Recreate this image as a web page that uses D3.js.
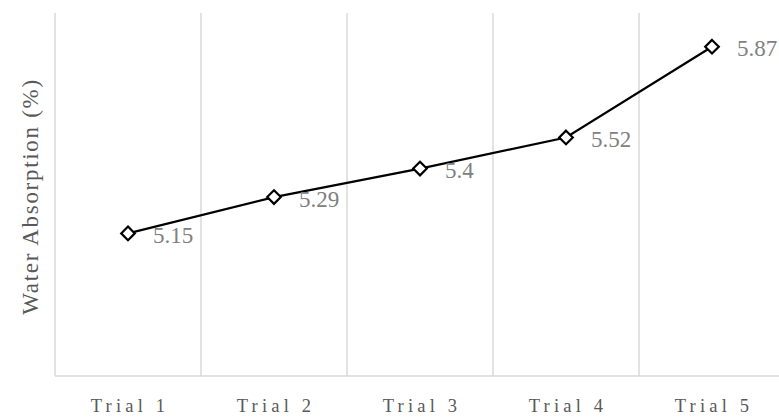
<!DOCTYPE html>
<html><head><meta charset="utf-8">
<script src="https://cdn.jsdelivr.net/npm/d3@7"></script>
<style>body{margin:0;background:#fff}svg{display:block}</style>
</head><body>
<svg id="c" width="779" height="417"></svg>
<script>
const categories = ["Trial 1","Trial 2","Trial 3","Trial 4","Trial 5"];
const values = [5.15, 5.29, 5.4, 5.52, 5.87];
const valueLabels = ["5.15","5.29","5.4","5.52","5.87"];
const yTitle = "Water Absorption (%)";

const svg = d3.select("#c");
const m = {left:55, top:13, bottom:376};
const band = 146;
const x = d3.scaleBand().domain(categories).range([m.left, m.left + band*categories.length]).padding(0);
const y = d3.scaleLinear().domain([4.6, 6.0]).range([m.bottom, m.top]);
const FONT = "'Liberation Serif', 'DejaVu Serif', serif";

// vertical gridlines at category boundaries
const bounds = categories.map(c => x(c));
svg.append("g").selectAll("line").data(bounds).join("line")
  .attr("x1", d=>d).attr("x2", d=>d).attr("y1", m.top).attr("y2", m.bottom)
  .attr("stroke", "#d9d9d9").attr("stroke-width", 1.5);

// x axis line
svg.append("line").attr("x1", m.left).attr("x2", 779).attr("y1", m.bottom).attr("y2", m.bottom)
  .attr("stroke", "#d9d9d9").attr("stroke-width", 1.5);

// x labels
svg.append("g").selectAll("text").data(categories).join("text")
  .attr("x", d => x(d) + x.bandwidth()/2 + 2).attr("y", 412)
  .attr("text-anchor", "middle")
  .attr("font-family", FONT)
  .attr("font-size", 18.5).attr("letter-spacing", 4.2)
  .attr("fill", "#595959").text(d => d);

// y title
svg.append("text")
  .attr("transform", `translate(38,${(m.top+m.bottom)/2 + 2}) rotate(-90)`)
  .attr("text-anchor", "middle")
  .attr("font-family", FONT)
  .attr("font-size", 23).attr("letter-spacing", 1.7)
  .attr("fill", "#595959").text(yTitle);

const cx = (d,i) => x(categories[i]) + x.bandwidth()/2;

// line
const line = d3.line().x((d,i)=>cx(d,i)).y(d=>y(d));
svg.append("path").datum(values).attr("d", line)
  .attr("fill","none").attr("stroke","#000").attr("stroke-width",2.2);

// markers
const sym = d3.symbol().type(d3.symbolDiamond2).size(118);
svg.append("g").selectAll("path").data(values).join("path")
  .attr("d", sym)
  .attr("transform", (d,i)=>`translate(${cx(d,i)},${y(d)})`)
  .attr("fill","#fff").attr("stroke","#000").attr("stroke-width",2.2);

// data labels
svg.append("g").selectAll("text").data(values).join("text")
  .attr("x", (d,i)=>cx(d,i)+25).attr("y", d=>y(d)+9.5)
  .attr("font-family", FONT)
  .attr("font-size", 23).attr("fill", "#808080")
  .text((d,i)=>valueLabels[i]);
</script>
</body></html>
